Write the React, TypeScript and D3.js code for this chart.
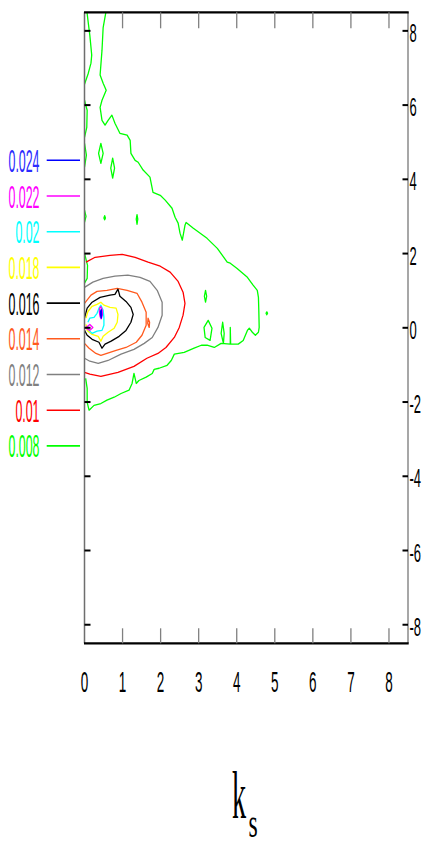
import React from "react";
import * as d3 from "d3";

type P = [number, number];

const xTicks = [0, 1, 2, 3, 4, 5, 6, 7, 8];
const yTicks = [8, 6, 4, 2, 0, -2, -4, -6, -8];
const levelLabels = ["0.024", "0.022", "0.02", "0.018", "0.016", "0.014", "0.012", "0.01", "0.008"];
const levelColors = ["#0000ff", "#ff00ff", "#00ffff", "#ffff00", "#000000", "#ff5a1e", "#808080", "#ff0000", "#00ff00"];
const labelColors = ["#2b2bff", "#ff00ff", "#00ffff", "#ffff00", "#000000", "#ff5a1e", "#808080", "#ff0000", "#00ff00"];

// contour lines in data units (k_x, k_y)
const c010: P[] = [[0.04,1.77],[0.28,1.9],[0.67,1.95],[0.99,1.98],[1.33,1.9],[1.67,1.77],[1.99,1.66],[2.25,1.5],[2.46,1.25],[2.59,0.96],[2.64,0.66],[2.59,0.34],[2.49,0.01],[2.36,-0.26],[2.14,-0.53],[1.93,-0.69],[1.64,-0.82],[1.3,-1.04],[0.88,-1.2],[0.43,-1.31],[0.14,-1.25],[0.0,-1.2]];
const c012: P[] = [[0.0,1.09],[0.22,1.23],[0.49,1.33],[0.8,1.39],[1.14,1.42],[1.46,1.36],[1.72,1.25],[1.91,1.01],[2.04,0.69],[2.04,0.34],[1.93,0.01],[1.78,-0.26],[1.57,-0.42],[1.3,-0.58],[0.96,-0.71],[0.62,-0.88],[0.36,-0.96],[0.14,-0.9],[0.0,-0.82]];
const c014: P[] = [[0.0,0.66],[0.17,0.88],[0.33,0.98],[0.59,1.01],[0.86,1.06],[1.12,1.01],[1.38,0.93],[1.51,0.69],[1.62,0.42],[1.62,0.07],[1.51,-0.2],[1.36,-0.39],[1.09,-0.53],[0.83,-0.61],[0.59,-0.69],[0.43,-0.74],[0.3,-0.69],[0.12,-0.55],[0.0,-0.42]];
const c014b: P[] = [[1.67,0.26],[1.71,0.15],[1.7,0.01],[1.66,0.12]];
const c016: P[] = [[0.0,0.26],[0.07,0.53],[0.2,0.69],[0.41,0.82],[0.67,0.88],[0.8,0.9],[0.88,1.04],[0.93,0.85],[1.09,0.71],[1.22,0.55],[1.28,0.36],[1.22,0.15],[1.09,-0.07],[0.91,-0.23],[0.7,-0.36],[0.54,-0.44],[0.46,-0.55],[0.38,-0.39],[0.2,-0.31],[0.07,-0.2],[0.0,-0.07]];
const c018: P[] = [[0.04,0.26],[0.09,0.44],[0.2,0.58],[0.33,0.63],[0.43,0.69],[0.51,0.61],[0.67,0.55],[0.83,0.53],[0.88,0.36],[0.86,0.15],[0.78,-0.01],[0.62,-0.12],[0.49,-0.23],[0.43,-0.36],[0.36,-0.23],[0.2,-0.18],[0.07,-0.07],[0.04,0.09]];
const c020: P[] = [[0.09,0.15],[0.14,0.26],[0.25,0.28],[0.33,0.39],[0.38,0.53],[0.43,0.61],[0.49,0.47],[0.51,0.28],[0.51,0.07],[0.46,-0.07],[0.33,-0.09],[0.2,-0.15],[0.12,-0.07],[0.09,0.04]];
const c022a: P[] = [[0.4,0.53],[0.43,0.57],[0.47,0.47],[0.47,0.34],[0.44,0.24],[0.41,0.3],[0.39,0.43]];
const c022b: P[] = [[0.04,0.01],[0.14,0.09],[0.22,0.01],[0.14,-0.07],[0.04,-0.01]];
const c024: P[] = [[0.42,0.44],[0.44,0.49],[0.45,0.36],[0.44,0.26],[0.42,0.34]];
const c008main: P[] = [[0.03,-1.36],[0.07,-1.63],[0.07,-2.01],[0.12,-2.22],[0.25,-2.09],[0.43,-2.04],[0.59,-1.95],[0.78,-1.87],[0.96,-1.77],[1.17,-1.68],[1.25,-1.5],[1.3,-1.23],[1.36,-1.5],[1.43,-1.42],[1.62,-1.33],[1.78,-1.23],[1.83,-1.12],[1.96,-1.09],[2.17,-1.01],[2.28,-0.88],[2.36,-0.71],[2.62,-0.66],[2.88,-0.55],[3.07,-0.47],[3.22,-0.47],[3.41,-0.53],[3.59,-0.42],[3.83,-0.44],[3.83,0.01],[3.84,-0.44],[4.04,-0.44],[4.17,-0.34],[4.28,-0.07],[4.33,-0.01],[4.41,-0.12],[4.49,-0.2],[4.57,-0.12],[4.59,0.01],[4.58,0.47],[4.57,0.82],[4.54,1.01],[4.43,1.15],[4.28,1.36],[4.01,1.6],[3.83,1.74],[3.75,1.77],[3.49,2.14],[3.22,2.41],[2.86,2.68],[2.67,2.84],[2.64,2.76],[2.57,2.36],[2.51,2.55],[2.46,2.82],[2.38,2.98],[2.3,3.22],[2.12,3.44],[1.99,3.57],[1.8,3.65],[1.72,4.06],[1.54,4.25],[1.41,4.46],[1.33,4.51],[1.22,4.7],[1.2,5.05],[1.12,5.19],[0.93,5.24],[0.8,5.51],[0.72,5.73],[0.62,5.59],[0.54,5.46],[0.46,5.59],[0.41,5.94],[0.46,6.13],[0.57,6.4],[0.49,6.59],[0.41,6.81],[0.46,7.48],[0.49,8.09],[0.57,8.55]];
const c008edge1: P[] = [[0.06,8.55],[0.1,8.21],[0.14,7.88],[0.19,7.35],[0.17,7.13],[0.1,6.86],[0.0,6.56]];
const c008edge2: P[] = [[0.0,6.13],[0.07,5.86],[0.06,5.4],[0.0,5.13]];
const c008edge3: P[] = [[0.0,4.97],[0.05,4.65],[0.0,4.33]];
const c008edge4: P[] = [[0.0,3.17],[0.04,3.0],[0.0,2.84]];
const c008edge5: P[] = [[0.0,2.01],[0.08,1.68],[0.07,1.33],[0.0,1.2]];
const c008loop1: P[] = [[0.43,4.97],[0.49,4.7],[0.43,4.43],[0.37,4.7]];
const c008loop2: P[] = [[0.74,4.57],[0.79,4.3],[0.74,4.03],[0.69,4.3]];
const c008loop3: P[] = [[0.53,3.02],[0.55,2.96],[0.53,2.91],[0.51,2.96]];
const c008loop4: P[] = [[1.38,3.05],[1.4,2.93],[1.38,2.79],[1.36,2.93]];
const c008loop5: P[] = [[3.18,1.01],[3.21,0.85],[3.18,0.69],[3.15,0.85]];
const c008loop6: P[] = [[3.25,0.2],[3.35,-0.01],[3.3,-0.34],[3.17,-0.26],[3.14,0.01]];
const c008loop7: P[] = [[3.63,0.15],[3.67,-0.15],[3.65,-0.42],[3.59,-0.15]];
const c008loop8: P[] = [[4.79,0.43],[4.81,0.39],[4.79,0.35],[4.77,0.39]];

const contourSet: { level: number; closed: boolean; pts: P[] }[] = [
  { level: 8, closed: false, pts: c008main },
  { level: 8, closed: false, pts: c008edge1 },
  { level: 8, closed: false, pts: c008edge2 },
  { level: 8, closed: false, pts: c008edge3 },
  { level: 8, closed: false, pts: c008edge4 },
  { level: 8, closed: false, pts: c008edge5 },
  { level: 8, closed: true, pts: c008loop1 },
  { level: 8, closed: true, pts: c008loop2 },
  { level: 8, closed: true, pts: c008loop3 },
  { level: 8, closed: true, pts: c008loop4 },
  { level: 8, closed: true, pts: c008loop5 },
  { level: 8, closed: true, pts: c008loop6 },
  { level: 8, closed: true, pts: c008loop7 },
  { level: 8, closed: true, pts: c008loop8 },
  { level: 7, closed: false, pts: c010 },
  { level: 6, closed: false, pts: c012 },
  { level: 5, closed: false, pts: c014 },
  { level: 5, closed: true, pts: c014b },
  { level: 4, closed: false, pts: c016 },
  { level: 3, closed: false, pts: c018 },
  { level: 2, closed: false, pts: c020 },
  { level: 1, closed: true, pts: c022a },
  { level: 1, closed: false, pts: c022b },
  { level: 0, closed: true, pts: c024 },
];

export default function App() {
  const x = d3.scaleLinear().domain([0, 8.5]).range([84.5, 408]);
  const y = d3.scaleLinear().domain([-8.5, 8.5]).range([643.3, 12.3]);
  const openLine = d3.line<P>().x((d) => x(d[0])).y((d) => y(d[1]));
  const closedLine = d3.line<P>().x((d) => x(d[0])).y((d) => y(d[1])).curve(d3.curveLinearClosed);
  const x0 = x(0), x1 = x(8.5), yTop = y(8.5), yBot = y(-8.5);
  const legY0 = 160.3, legStep = 35.7;

  return (
    <svg width={427} height={846} style={{ position: "absolute", left: 0, top: 0, background: "#fff" }}>
      <defs>
        <clipPath id="plotClip">
          <rect x={x0} y={yTop} width={x1 - x0} height={yBot - yTop} />
        </clipPath>
      </defs>
      <rect x={0} y={0} width={427} height={846} fill="#fff" />
      <g clipPath="url(#plotClip)" fill="none" strokeWidth={1.3} strokeLinejoin="round">
        {contourSet.map((c, i) => (
          <path key={i} d={(c.closed ? closedLine : openLine)(c.pts) || ""} stroke={levelColors[c.level]} />
        ))}
      </g>
      {/* frame */}
      <line x1={x0} x2={x0} y1={yTop} y2={yBot} stroke="#6e6e6e" strokeWidth={1.5} />
      <line x1={x1} x2={x1} y1={yTop} y2={yBot} stroke="#8a8a8a" strokeWidth={1.5} />
      <line x1={x0 - 0.5} x2={x1 + 0.7} y1={yTop} y2={yTop} stroke="#000" strokeWidth={2.2} />
      <line x1={x0 - 0.5} x2={x1 + 0.7} y1={yBot} y2={yBot} stroke="#000" strokeWidth={2.2} />
      {xTicks.filter((t) => t > 0).map((t) => (
        <g key={"xt" + t}>
          <line x1={x(t)} x2={x(t)} y1={yTop} y2={yTop + 16} stroke="#808080" strokeWidth={1.3} />
          <line x1={x(t)} x2={x(t)} y1={yBot} y2={yBot - 15} stroke="#808080" strokeWidth={1.3} />
        </g>
      ))}
      {yTicks.map((t) => (
        <g key={"yt" + t}>
          <line x1={x0} x2={x0 + 6} y1={y(t)} y2={y(t)} stroke="#000" strokeWidth={2} />
          <line x1={x1 - 5.5} x2={x1} y1={y(t)} y2={y(t)} stroke="#000" strokeWidth={2} />
          <text
            transform={`translate(${x1 + 1.5},${y(t) + 11}) scale(0.52,1)`}
            fontFamily="'Liberation Sans', Arial, sans-serif"
            fontSize={25}
            fill="#000"
          >
            {t < 0 ? "-" + Math.abs(t) : String(t)}
          </text>
        </g>
      ))}
      {xTicks.map((t) => (
        <text
          key={"xl" + t}
          transform={`translate(${x(t)},${691.7}) scale(0.45,1)`}
          textAnchor="middle"
          fontFamily="'Liberation Sans', Arial, sans-serif"
          fontSize={30}
          fill="#000"
        >
          {String(t)}
        </text>
      ))}
      {/* legend */}
      {levelLabels.map((lab, i) => {
        const ly = legY0 + i * legStep;
        return (
          <g key={"lg" + i}>
            <line x1={46.7} x2={80} y1={ly} y2={ly} stroke={levelColors[i]} strokeWidth={1.6} />
            <text
              transform={`translate(${39.5},${ly + 11.5}) scale(0.4,1)`}
              textAnchor="end"
              fontFamily="'Liberation Sans', Arial, sans-serif"
              fontSize={31}
              fill={labelColors[i]}
            >
              {lab}
            </text>
          </g>
        );
      })}
      {/* axis label */}
      <text
        transform={`translate(${232},${818}) scale(0.42,1)`}
        fontFamily="'Liberation Serif', 'Times New Roman', serif"
        fontSize={67}
        fill="#000"
      >
        k
      </text>
      <text
        transform={`translate(${248.5},${836.5}) scale(0.55,1)`}
        fontFamily="'Liberation Serif', 'Times New Roman', serif"
        fontSize={43}
        fill="#000"
      >
        s
      </text>
    </svg>
  );
}
